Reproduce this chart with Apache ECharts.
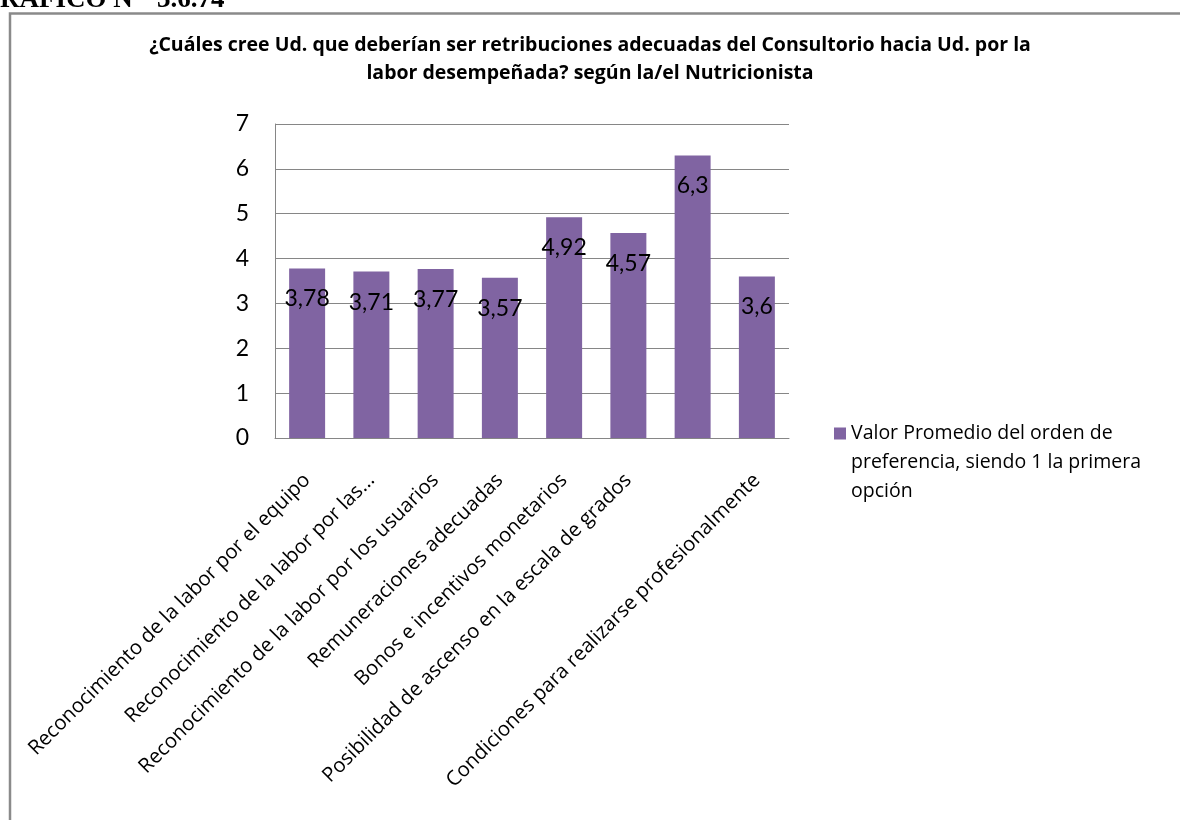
<!DOCTYPE html>
<html>
<head>
<meta charset="utf-8">
<script src="https://cdn.jsdelivr.net/npm/echarts@6/dist/echarts.min.js"></script>
<style>
  html, body { margin: 0; padding: 0; background: #ffffff; }
  #chart { width: 1180px; height: 820px; }
</style>
</head>
<body>
<div id="chart"></div>
<script>
const titleLines = [
  '¿Cuáles cree Ud. que deberían ser retribuciones adecuadas del Consultorio hacia Ud. por la',
  'labor desempeñada? según la/el Nutricionista'
];
const figureCaption = 'GRAFICO N°  3.6.74';
const categories = [
  'Reconocimiento de la labor por el equipo',
  'Reconocimiento de la labor por las...',
  'Reconocimiento de la labor por los usuarios',
  'Remuneraciones adecuadas',
  'Bonos e incentivos monetarios',
  'Posibilidad de ascenso en la escala de grados',
  '',
  'Condiciones para realizarse profesionalmente'
];
const values = [3.78, 3.71, 3.77, 3.57, 4.92, 4.57, 6.3, 3.6];
const seriesName = 'Valor Promedio del orden de preferencia, siendo 1 la primera opción';
const yTicks = { min: 0, max: 7, interval: 1 };

const FONT = 'Lato, "Open Sans", "DejaVu Sans", sans-serif';
const WIDE = '"Open Sans", Lato, "DejaVu Sans", sans-serif';
const chart = echarts.init(document.getElementById('chart'), null, { renderer: 'canvas' });

const titleStyle = {
  fontFamily: WIDE,
  fontWeight: 'bold',
  fontSize: 19.5,
  lineHeight: 28,
  color: '#000000'
};

chart.setOption({
  backgroundColor: '#ffffff',
  animation: false,
  title: [
    { text: titleLines[0], left: 'center', top: 31, padding: 0, textStyle: titleStyle },
    { text: titleLines[1], left: 'center', top: 59, padding: 0, textStyle: titleStyle }
  ],
  graphic: [
    {
      type: 'rect',
      silent: true,
      shape: { x: 10, y: 13.5, width: 1300, height: 900 },
      style: { fill: 'none', stroke: '#8a8a8a', lineWidth: 2.5 }
    },
    {
      type: 'text',
      silent: true,
      style: {
        x: -21,
        y: 14,
        text: figureCaption,
        font: 'bold 27px "Liberation Serif", "DejaVu Serif", serif',
        fill: '#000000',
        verticalAlign: 'bottom'
      }
    }
  ],
  legend: {
    show: true,
    orient: 'vertical',
    left: 834,
    top: 419,
    padding: 0,
    itemWidth: 12,
    itemHeight: 70,
    icon: 'path://M0,0L12,0L12,12L0,12Z M0,70L0.01,70L0.01,69.99Z',
    formatter: function (name) {
      return name.replace(' preferencia', '\npreferencia').replace(' opción', '\nopción');
    },
    textStyle: {
      fontFamily: WIDE,
      fontSize: 19.5,
      lineHeight: 29,
      color: '#000000'
    }
  },
  grid: {
    left: 275,
    right: 391,
    top: 124,
    bottom: 382,
    containLabel: false
  },
  xAxis: {
    type: 'category',
    data: categories,
    axisLine: { show: true, lineStyle: { color: '#868686', width: 1 } },
    axisTick: { show: false },
    axisLabel: {
      interval: 0,
      rotate: 45,
      margin: 39,
      fontFamily: WIDE,
      fontSize: 20.3,
      color: '#000000'
    }
  },
  yAxis: {
    type: 'value',
    min: yTicks.min,
    max: yTicks.max,
    interval: yTicks.interval,
    axisLine: { show: true, lineStyle: { color: '#868686', width: 1 } },
    axisTick: { show: false },
    splitLine: { show: true, lineStyle: { color: '#868686', width: 1 } },
    axisLabel: {
      margin: 26,
      fontFamily: FONT,
      fontSize: 23,
      color: '#000000'
    }
  },
  series: [
    {
      name: seriesName,
      type: 'bar',
      data: values,
      barWidth: '56%',
      itemStyle: { color: '#8064A2' },
      label: {
        show: true,
        position: 'insideTop',
        distance: 19,
        fontFamily: FONT,
        fontSize: 23,
        color: '#000000',
        formatter: function (p) { return String(p.value).replace('.', ','); }
      }
    }
  ]
});
</script>
</body>
</html>
